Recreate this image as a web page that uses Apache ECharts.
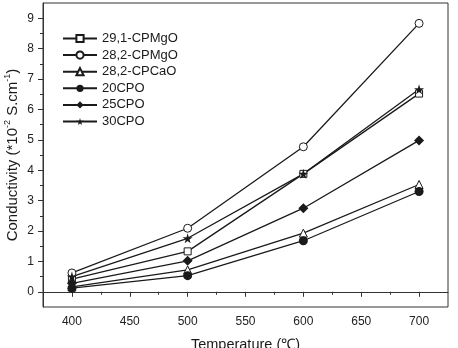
<!DOCTYPE html>
<html>
<head>
<meta charset="utf-8">
<script src="https://cdn.jsdelivr.net/npm/echarts@6/dist/echarts.min.js"></script>
<style>
  html, body { margin: 0; padding: 0; background: #fff; }
  #chart { width: 458px; height: 348px; }
</style>
</head>
<body>
<div id="chart"></div>
<script>
// temperature (℃)
var temps = [400, 500, 600, 700]
var xMajor = [400, 450, 500, 550, 600, 650, 700]
var xMinor = [425, 475, 525, 575, 625, 675]
var yMajor = [0, 1, 2, 3, 4, 5, 6, 7, 8, 9]
var yMinor = [0.5, 1.5, 2.5, 3.5, 4.5, 5.5, 6.5, 7.5, 8.5]

// conductivity (*10^-2 S.cm^-1)
var cp291MgO = [0.42, 1.33, 3.88, 6.52]
var cp282MgO = [0.62, 2.09, 4.77, 8.83]
var cp282CaO = [0.16, 0.72, 1.93, 3.53]
var cpo20 = [0.12, 0.53, 1.68, 3.30]
var cpo25 = [0.28, 1.02, 2.75, 4.98]
var cpo30 = [0.50, 1.76, 3.88, 6.66]

var names = ['29,1-CPMgO', '28,2-CPMgO', '28,2-CPCaO', '20CPO', '25CPO', '30CPO']
var starPath = 'path://M50,0 L61,35 L98,35 L68,57 L79,91 L50,70 L21,91 L32,57 L2,35 L39,35 Z'

var font = 'Arial, "Liberation Sans", sans-serif'
var ink = '#1a1a1a'

function pairs (vals) {
  return vals.map(function (v, i) { return [temps[i], v] })
}

function makeSeries (name, vals, symbol, size, filled) {
  return {
    name: name,
    type: 'line',
    data: pairs(vals),
    symbol: symbol,
    symbolSize: size,
    showAllSymbol: true,
    lineStyle: { color: ink, width: 1.3 },
    itemStyle: {
      color: filled ? ink : '#fff',
      borderColor: ink,
      borderWidth: filled ? 0 : 1
    },
    emphasis: { disabled: true },
    animation: false
  }
}

var option = {
  animation: false,
  grid: {
    left: 43, right: 10, top: 3, bottom: 41,
    outerBoundsMode: 'none',
    show: true, borderColor: '#333', borderWidth: 1
  },
  legend: {
    orient: 'vertical',
    left: 57, top: 27,
    itemWidth: 34, itemHeight: 9, itemGap: 3.6,
    textStyle: { fontFamily: font, fontSize: 13, color: ink },
    data: names
  },
  xAxis: [{
    type: 'value', min: 375, max: 725,
    axisLine: { lineStyle: { color: '#333' } },
    axisTick: { customValues: xMajor, length: 5, lineStyle: { color: '#333' } },
    axisLabel: { customValues: xMajor, fontFamily: font, fontSize: 12, color: '#222', margin: 9 },
    splitLine: { show: false },
    name: 'Temperature (℃)', nameLocation: 'middle', nameGap: 30,
    nameTextStyle: { fontFamily: font, fontSize: 14.5, color: ink }
  }, {
    type: 'value', min: 375, max: 725, position: 'bottom',
    axisLine: { show: false },
    axisTick: { customValues: xMinor, length: 3, lineStyle: { color: '#333' } },
    axisLabel: { show: false },
    splitLine: { show: false }
  }],
  yAxis: [{
    type: 'value', min: -0.5, max: 9.5,
    axisLine: { show: true, lineStyle: { color: '#333' } },
    axisTick: { show: true, customValues: yMajor, length: 5, lineStyle: { color: '#333' } },
    axisLabel: { customValues: yMajor, fontFamily: font, fontSize: 12, color: '#222', margin: 9 },
    splitLine: { show: false },
    name: '{a|Conductivity (*10}{s|-2}{a| S.cm}{s|-1}{a|)}',
    nameLocation: 'middle', nameGap: 23, nameRotate: 90, nameMoveOverlap: false,
    nameTextStyle: {
      rich: {
        a: { fontFamily: font, fontSize: 15, color: ink, lineHeight: 17, verticalAlign: 'bottom' },
        s: { fontFamily: font, fontSize: 9, color: ink, lineHeight: 17, verticalAlign: 'top' }
      }
    }
  }, {
    type: 'value', min: -0.5, max: 9.5, position: 'left',
    axisLine: { show: false },
    axisTick: { show: true, customValues: yMinor, length: 3, lineStyle: { color: '#333' } },
    axisLabel: { show: false },
    splitLine: { show: false }
  }],
  series: [
    makeSeries(names[0], cp291MgO, 'rect', 7, false),
    makeSeries(names[1], cp282MgO, 'circle', 8, false),
    makeSeries(names[2], cp282CaO, 'triangle', 8, false),
    makeSeries(names[3], cpo20, 'circle', 9, true),
    makeSeries(names[4], cpo25, 'diamond', 10, true),
    makeSeries(names[5], cpo30, starPath, 10, true)
  ]
}

var myChart = echarts.init(document.getElementById('chart'))
myChart.setOption(option)
</script>
</body>
</html>
